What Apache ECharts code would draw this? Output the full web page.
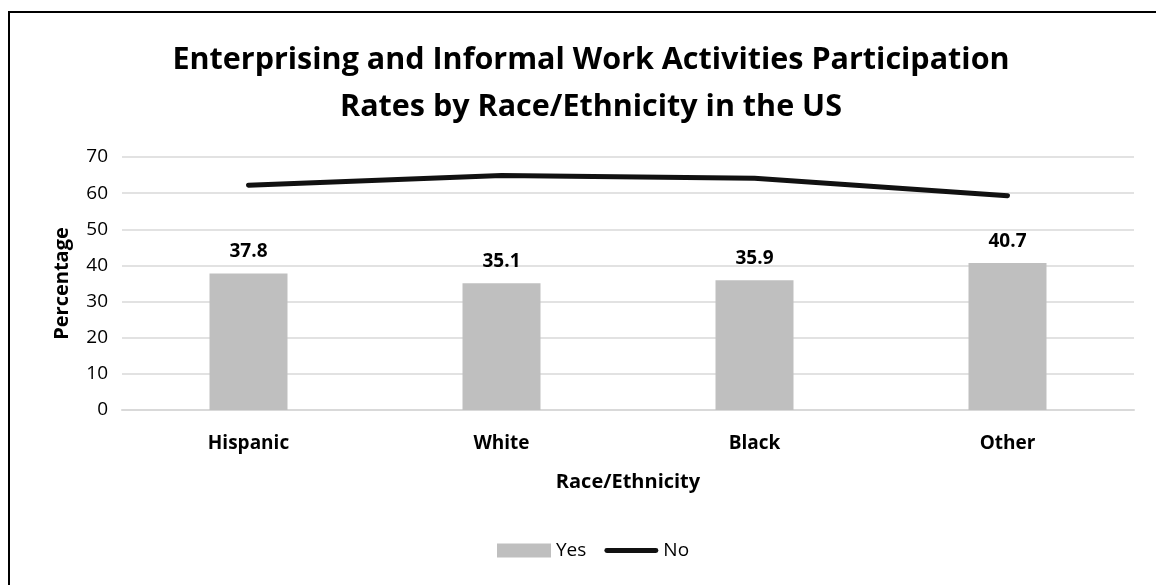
<!DOCTYPE html>
<html><head><meta charset="utf-8">
<script src="https://cdn.jsdelivr.net/npm/echarts@6/dist/echarts.min.js"></script>
<style>html,body{margin:0;padding:0;background:#fff}#c{width:1156px;height:585px}</style>
</head><body><div id="c"></div>
<script>
const categories = ['Hispanic', 'White', 'Black', 'Other'];
const yesValues = [37.8, 35.1, 35.9, 40.7];
const noValues = [62.2, 64.9, 64.1, 59.3];
const yTicks = [0, 10, 20, 30, 40, 50, 60, 70];
const FONT = 'Open Sans';
const chart = echarts.init(document.getElementById('c'));
chart.setOption({
  animation: false,
  backgroundColor: '#fff',
  textStyle: { fontFamily: FONT },
  graphic: [{ type: 'rect', shape: { x: 9, y: 12, width: 1300, height: 700 }, style: { fill: 'none', stroke: '#000', lineWidth: 2 } }],
  title: {
    text: 'Enterprising and Informal Work Activities Participation\nRates by Race/Ethnicity in the US',
    left: 586, textAlign: 'center', top: 32,
    textStyle: { fontFamily: FONT, fontSize: 30.5, fontWeight: 'bold', color: '#000', lineHeight: 47 }
  },
  legend: {
    bottom: 20, left: 492, itemGap: 18,
    textStyle: { fontFamily: FONT, fontSize: 19, color: '#000' },
    data: [
      { name: 'Yes', icon: 'rect', itemStyle: { color: '#bfbfbf' } },
      { name: 'No', icon: 'path://M2.5,0 L53.5,0 A2.5,2.5 0 0 1 53.5,5 L2.5,5 A2.5,2.5 0 0 1 2.5,0 Z', itemStyle: { color: '#111' } }
    ],
    itemWidth: 54, itemHeight: 14
  },
  grid: { left: 122, right: 22, top: 157, bottom: 175, containLabel: false },
  xAxis: {
    type: 'category', data: categories,
    name: 'Race/Ethnicity', nameLocation: 'middle', nameGap: 62,
    nameTextStyle: { fontFamily: FONT, fontSize: 20, fontWeight: 'bold', color: '#000' },
    axisLine: { lineStyle: { color: '#d9d9d9', width: 2 } },
    axisTick: { show: false },
    axisLabel: { fontFamily: FONT, fontSize: 19, fontWeight: 'bold', color: '#000', margin: 24 }
  },
  yAxis: {
    type: 'value', min: yTicks[0], max: yTicks[yTicks.length - 1], interval: 10,
    name: 'Percentage', nameLocation: 'middle', nameGap: 50,
    nameTextStyle: { fontFamily: FONT, fontSize: 20, fontWeight: 'bold', color: '#000' },
    axisLine: { show: false }, axisTick: { show: false },
    axisLabel: { fontFamily: FONT, fontSize: 19, color: '#000', margin: 14 },
    splitLine: { lineStyle: { color: '#d9d9d9', width: 1.5 } }
  },
  series: [
    {
      name: 'Yes', type: 'bar', data: yesValues, barWidth: 78,
      itemStyle: { color: '#bfbfbf' },
      label: { show: true, position: 'top', distance: 12, fontFamily: FONT, fontSize: 19, fontWeight: 'bold', color: '#000' }
    },
    {
      name: 'No', type: 'line', data: noValues, symbol: 'none',
      lineStyle: { color: '#111', width: 5, cap: 'round', join: 'round' },
      itemStyle: { color: '#111' }
    }
  ]
});
</script></body></html>
